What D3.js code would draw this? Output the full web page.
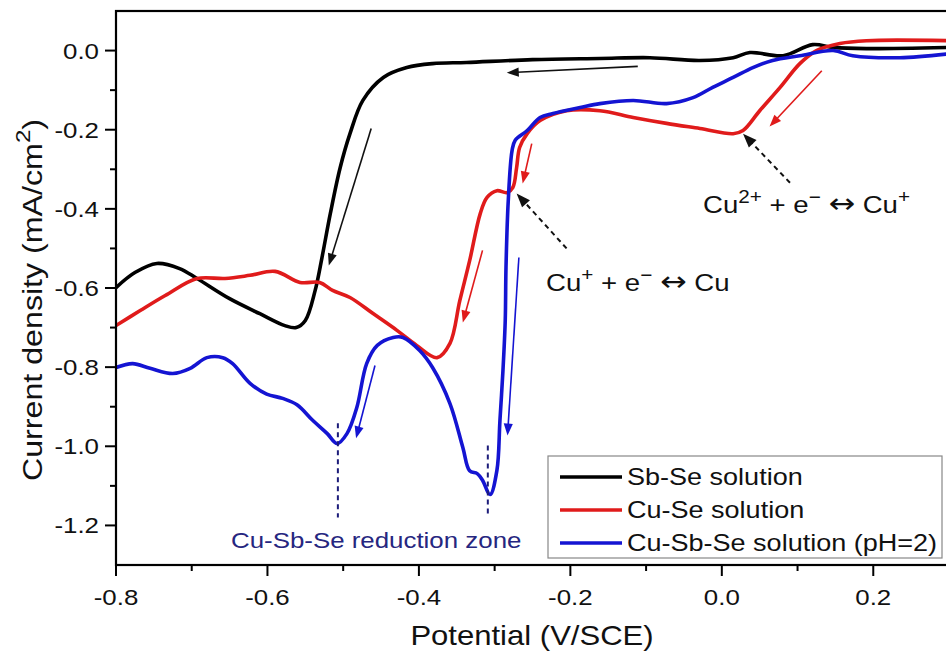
<!DOCTYPE html>
<html>
<head>
<meta charset="utf-8">
<script src="https://cdn.jsdelivr.net/npm/d3@7"></script>
<style>
  body{margin:0;background:#fff}
  svg{display:block;font-family:"Liberation Sans",Arial,sans-serif}
</style>
</head>
<body>
<svg width="946" height="655"></svg>
<script>
// polarisation curves, [potential V/SCE, current density mA/cm2]
const sbSe = [[-0.8,-0.599],[-0.775,-0.561],[-0.746,-0.538],[-0.716,-0.551],[-0.693,-0.576],[-0.65,-0.627],
  [-0.61,-0.665],[-0.577,-0.695],[-0.562,-0.70],[-0.55,-0.682],[-0.537,-0.606],[-0.528,-0.523],[-0.517,-0.412],
  [-0.504,-0.296],[-0.491,-0.21],[-0.474,-0.126],[-0.447,-0.068],[-0.416,-0.043],[-0.382,-0.033],[-0.337,-0.03],
  [-0.25,-0.023],[-0.161,-0.02],[-0.095,-0.018],[-0.029,-0.025],[0.015,-0.018],[0.037,-0.005],[0.081,-0.013],
  [0.12,0.015],[0.147,0.008],[0.191,0.005],[0.3,0.008]]
const cuSe = [[-0.8,-0.695],[-0.768,-0.657],[-0.735,-0.619],[-0.693,-0.576],[-0.656,-0.576],[-0.623,-0.568],
  [-0.59,-0.558],[-0.557,-0.586],[-0.531,-0.586],[-0.514,-0.606],[-0.491,-0.624],[-0.461,-0.664],[-0.429,-0.707],
  [-0.403,-0.745],[-0.376,-0.776],[-0.359,-0.74],[-0.346,-0.632],[-0.333,-0.531],[-0.319,-0.412],[-0.31,-0.371],
  [-0.297,-0.354],[-0.284,-0.359],[-0.276,-0.346],[-0.271,-0.296],[-0.267,-0.245],[-0.257,-0.21],[-0.24,-0.177],
  [-0.205,-0.152],[-0.161,-0.152],[-0.117,-0.169],[-0.073,-0.184],[-0.029,-0.197],[0.015,-0.21],[0.028,-0.202],
  [0.05,-0.152],[0.077,-0.093],[0.103,-0.033],[0.125,0.0],[0.156,0.018],[0.191,0.025],[0.3,0.025]]
const cuSbSe = [[-0.8,-0.801],[-0.778,-0.791],[-0.755,-0.803],[-0.725,-0.816],[-0.702,-0.803],[-0.68,-0.776],
  [-0.659,-0.776],[-0.646,-0.791],[-0.623,-0.841],[-0.601,-0.868],[-0.58,-0.879],[-0.561,-0.895],[-0.54,-0.935],
  [-0.521,-0.968],[-0.508,-0.993],[-0.495,-0.968],[-0.482,-0.902],[-0.469,-0.791],[-0.455,-0.745],[-0.434,-0.725],
  [-0.421,-0.725],[-0.399,-0.758],[-0.382,-0.801],[-0.359,-0.892],[-0.342,-1.003],[-0.333,-1.062],[-0.323,-1.069],
  [-0.316,-1.086],[-0.306,-1.122],[-0.297,-1.061],[-0.293,-0.935],[-0.289,-0.808],[-0.286,-0.682],[-0.285,-0.548],
  [-0.282,-0.379],[-0.277,-0.253],[-0.273,-0.227],[-0.257,-0.202],[-0.24,-0.169],[-0.223,-0.159],[-0.187,-0.144],
  [-0.161,-0.134],[-0.117,-0.126],[-0.073,-0.134],[-0.038,-0.119],[-0.012,-0.093],[0.015,-0.068],[0.041,-0.043],
  [0.067,-0.025],[0.103,-0.013],[0.147,0.0],[0.173,-0.013],[0.235,-0.018],[0.3,-0.008]]

const seriesNames = ["Sb-Se solution","Cu-Se solution","Cu-Sb-Se solution (pH=2)"]
const seriesColors = ["#000000","#e01b1b","#1414d2"]
const xTicks = [-0.8,-0.6,-0.4,-0.2,0.0,0.2]
const xMinor = [-0.7,-0.5,-0.3,-0.1,0.1]
const yTicks = [0.0,-0.2,-0.4,-0.6,-0.8,-1.0,-1.2]
const yMinor = [-0.1,-0.3,-0.5,-0.7,-0.9,-1.1]

// scan direction arrows [[from],[to],colour index]
const scanArrows = [
  [[-0.111,-0.040],[-0.284,-0.056],0],
  [[-0.463,-0.197],[-0.519,-0.543],0],
  [[-0.251,-0.235],[-0.263,-0.336],1],
  [[-0.316,-0.505],[-0.342,-0.687],1],
  [[0.132,-0.051],[0.063,-0.192],1],
  [[-0.268,-0.523],[-0.283,-0.973],2],
  [[-0.458,-0.796],[-0.483,-0.980],2]
]
// dashed pointer arrows to the copper peaks
const peakPointers = [[[0.090,-0.334],[0.028,-0.210]],[[-0.205,-0.500],[-0.271,-0.361]]]
const zonePeaks = [[-0.507,-0.942],[-0.309,-0.998]]
const zoneBottom = -1.18

const SX = 1.15 // the fonts in the figure are wide
const svg = d3.select("svg")
const x = d3.scaleLinear().domain([-0.8,0.3]).range([116,949])
const y = d3.scaleLinear().domain([-1.3,0.1]).range([565,11])

function addText(parent,px,py,parts,size,fill,anchor,rot){
  let t = parent.append("text")
    .attr("transform",`translate(${px},${py})${rot?` rotate(${rot})`:""} scale(${SX},1)`)
    .attr("font-size",size).attr("fill",fill).attr("text-anchor",anchor||"start")
  let up = false
  parts.forEach(p=>{
    if(typeof p==="string"){
      t.append("tspan").attr("dy",up?size*0.42:0).text(p)
      up=false
    }else if(p.sym){
      t.append("tspan").attr("dy",up?size*0.42:0).attr("font-family","DejaVu Sans")
        .attr("font-size",size*1.15).text(p.sym)
      up=false
    }else{
      t.append("tspan").attr("dy",-size*0.42).attr("font-size",size*0.75).text(p.sup)
      up=true
    }
  })
  return t
}

// curves
const line = d3.line().x(d=>x(d[0])).y(d=>y(d[1])).curve(d3.curveCatmullRom.alpha(0.5))
svg.append("clipPath").attr("id","clip").append("rect")
  .attr("x",116).attr("y",11).attr("width",833).attr("height",554)
const plot = svg.append("g").attr("clip-path","url(#clip)")
;[sbSe,cuSe,cuSbSe].forEach((s,i)=>{
  plot.append("path").attr("d",line(s)).attr("fill","none")
    .attr("stroke",seriesColors[i]).attr("stroke-width",3.6).attr("stroke-linejoin","round")
})

// arrows
function arrow(g,p0,p1,color,width,head,dash){
  let x0=x(p0[0]),y0=y(p0[1]),x1=x(p1[0]),y1=y(p1[1])
  let a=Math.atan2(y1-y0,x1-x0), L=head, W=head*0.38
  let bx=x1-L*Math.cos(a), by=y1-L*Math.sin(a)
  g.append("line").attr("x1",x0).attr("y1",y0).attr("x2",bx+2*Math.cos(a)).attr("y2",by+2*Math.sin(a))
    .attr("stroke",color).attr("stroke-width",width).attr("stroke-dasharray",dash||null)
  g.append("polygon").attr("fill",color)
    .attr("points",`${x1},${y1} ${bx-W*Math.sin(a)},${by+W*Math.cos(a)} ${bx+W*Math.sin(a)},${by-W*Math.cos(a)}`)
}
const ann = svg.append("g")
scanArrows.forEach(d=>arrow(ann,d[0],d[1],seriesColors[d[2]]==="#000000"?"#111":seriesColors[d[2]],1.6,12))
peakPointers.forEach(d=>arrow(ann,d[0],d[1],"#111",2,14,"5,4"))
zonePeaks.forEach(d=>{
  ann.append("line").attr("x1",x(d[0])).attr("x2",x(d[0])).attr("y1",y(d[1])).attr("y2",y(zoneBottom))
    .attr("stroke","#1c1c7a").attr("stroke-width",2).attr("stroke-dasharray","5,4")
})

addText(ann,703,213,["Cu",{sup:"2+"}," + e",{sup:"−"}," ",{sym:"↔"}," Cu",{sup:"+"}],24,"#111")
addText(ann,546,291,["Cu",{sup:"+"}," + e",{sup:"−"}," ",{sym:"↔"}," Cu"],24,"#111")
addText(ann,231,548,["Cu-Sb-Se reduction zone"],22.5,"#262680")

// frame and axes
svg.append("rect").attr("x",116).attr("y",11).attr("width",833).attr("height",554)
  .attr("fill","none").attr("stroke","#000").attr("stroke-width",2.2)
const axes = svg.append("g").attr("stroke","#000").attr("stroke-width",2)
xTicks.forEach(v=>axes.append("line").attr("x1",x(v)).attr("x2",x(v)).attr("y1",565).attr("y2",576))
xMinor.forEach(v=>axes.append("line").attr("x1",x(v)).attr("x2",x(v)).attr("y1",565).attr("y2",571))
yTicks.forEach(v=>axes.append("line").attr("y1",y(v)).attr("y2",y(v)).attr("x1",116).attr("x2",105))
yMinor.forEach(v=>axes.append("line").attr("y1",y(v)).attr("y2",y(v)).attr("x1",116).attr("x2",110))
xTicks.forEach(v=>addText(svg,x(v),605,[v.toFixed(1)],22.5,"#111","middle"))
yTicks.forEach(v=>addText(svg,99,y(v)+8,[v.toFixed(1)],22.5,"#111","end"))
addText(svg,532,645,["Potential (V/SCE)"],27,"#111","middle")
addText(svg,42,300,["Current density (mA/cm",{sup:"2"},")"],28,"#111","middle",-90)

// legend
const leg = svg.append("g")
leg.append("rect").attr("x",548).attr("y",456).attr("width",394).attr("height",102)
  .attr("fill","#fff").attr("stroke","#888").attr("stroke-width",1.2)
seriesNames.forEach((n,i)=>{
  let yy = 477+i*33
  leg.append("line").attr("x1",560).attr("x2",622).attr("y1",yy).attr("y2",yy)
    .attr("stroke",seriesColors[i]).attr("stroke-width",3.6)
  addText(leg,627,yy+8,[n],23.5,"#111")
})
</script>
</body>
</html>
